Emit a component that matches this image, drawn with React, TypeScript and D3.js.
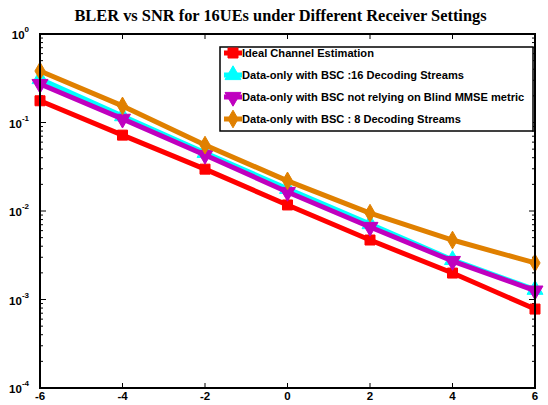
import React from 'react';
import { line, range, scaleLinear, scaleLog, symbol, symbolDiamond, symbolSquare, symbolTriangle } from 'd3';

const snr = [-6, -4, -2, 0, 2, 4, 6];
const xTicks = [-6, -4, -2, 0, 2, 4, 6];
const yExponents = [0, -1, -2, -3, -4];

const idealBler = [0.176, 0.072, 0.0297, 0.0117, 0.0047, 0.00199, 0.00078];
const bsc16Bler = [0.31, 0.118, 0.0454, 0.0178, 0.00712, 0.0028, 0.00129];
const noMmseBler = [0.272, 0.11, 0.043, 0.0164, 0.0066, 0.00272, 0.00126];
const bsc8Bler = [0.382, 0.154, 0.0556, 0.0219, 0.00946, 0.0047, 0.00259];

const seriesNames = [
  'Ideal Channel Estimation',
  'Data-only with BSC :16 Decoding Streams',
  'Data-only with BSC not relying on Blind MMSE metric',
  'Data-only with BSC : 8 Decoding Streams',
];

type Series = { name: string; values: number[]; color: string; shape: string };

const series: Series[] = [
  { name: seriesNames[0], values: idealBler, color: '#ff0000', shape: 'square' },
  { name: seriesNames[1], values: bsc16Bler, color: '#00ffff', shape: 'up' },
  { name: seriesNames[2], values: noMmseBler, color: '#bf00bf', shape: 'down' },
  { name: seriesNames[3], values: bsc8Bler, color: '#e08000', shape: 'diamond' },
];

const W = 548;
const H = 405;
const L = 40;
const R = 535;
const T = 34;
const B = 388;

const font = 'Liberation Sans, Arial, sans-serif';

function Marker({ shape, color, x, y }: { shape: string; color: string; x: number; y: number }) {
  let d = '';
  let rot = 0;
  if (shape === 'square') d = symbol(symbolSquare, 100)() ?? '';
  if (shape === 'up') d = symbol(symbolTriangle, 110)() ?? '';
  if (shape === 'down') {
    d = symbol(symbolTriangle, 110)() ?? '';
    rot = 180;
  }
  if (shape === 'diamond') d = symbol(symbolDiamond, 90)() ?? '';
  return <path d={d} fill={color} stroke={color} strokeWidth={1} transform={`translate(${x},${y}) rotate(${rot})`} />;
}

export default function App() {
  const x = scaleLinear().domain([-6, 6]).range([L, R]);
  const y = scaleLog().domain([1e-4, 1]).range([B, T]);

  const path = line<number>()
    .x((_, i) => x(snr[i]))
    .y(v => y(v));

  const minor: number[] = [];
  range(-4, 0).forEach(e => {
    range(2, 10).forEach(m => minor.push(m * Math.pow(10, e)));
  });

  const legX = 220;
  const legY = 47;
  const legW = 313;
  const legH = 84;

  return (
    <svg width={W} height={H} style={{ position: 'absolute', left: 0, top: 0, background: '#fff' }}>
      <text x={(L + R) / 2 - 7} y={21} textAnchor="middle" fontFamily="Liberation Serif, Times New Roman, serif" fontWeight="bold" fontSize={16.4}>
        BLER vs SNR for 16UEs under Different Receiver Settings
      </text>

      {/* ticks */}
      <g stroke="#000" strokeWidth={1}>
        {xTicks.map(t => (
          <g key={t}>
            <line x1={x(t)} x2={x(t)} y1={B} y2={B - 5} />
            <line x1={x(t)} x2={x(t)} y1={T} y2={T + 5} />
          </g>
        ))}
        {yExponents.map(e => (
          <g key={e}>
            <line x1={L} x2={L + 6} y1={y(Math.pow(10, e))} y2={y(Math.pow(10, e))} />
            <line x1={R} x2={R - 6} y1={y(Math.pow(10, e))} y2={y(Math.pow(10, e))} />
          </g>
        ))}
        {minor.map((v, i) => (
          <g key={i}>
            <line x1={L} x2={L + 3} y1={y(v)} y2={y(v)} />
            <line x1={R} x2={R - 3} y1={y(v)} y2={y(v)} />
          </g>
        ))}
      </g>

      {/* series */}
      {series.map(s => (
        <g key={s.name}>
          <path d={path(s.values) ?? ''} fill="none" stroke={s.color} strokeWidth={5} strokeLinejoin="round" />
          {s.values.map((v, i) => (
            <Marker key={i} shape={s.shape} color={s.color} x={x(snr[i])} y={y(v)} />
          ))}
        </g>
      ))}

      {/* axes box */}
      <rect x={L} y={T} width={R - L} height={B - T} fill="none" stroke="#000" strokeWidth={2} />

      {/* y labels */}
      {yExponents.map(e => (
        <text key={e} x={29} y={y(Math.pow(10, e)) + 5} textAnchor="end" fontFamily={font} fontWeight="bold" fontSize={11.5}>
          10
          <tspan dy={-7} fontSize={8}>{e}</tspan>
        </text>
      ))}

      {/* x labels */}
      {xTicks.map(t => (
        <text key={t} x={x(t)} y={400} textAnchor="middle" fontFamily={font} fontWeight="bold" fontSize={11.5}>
          {t}
        </text>
      ))}

      {/* legend */}
      <rect x={legX} y={legY} width={legW} height={legH} fill="#fff" stroke="#000" strokeWidth={1.5} />
      {series.map((s, i) => {
        const cy = legY + 6 + i * 22;
        return (
          <g key={s.name}>
            <line x1={legX + 4} x2={legX + 22} y1={cy} y2={cy} stroke={s.color} strokeWidth={5} />
            <Marker shape={s.shape} color={s.color} x={legX + 13} y={cy} />
            <text x={legX + 22} y={cy + 4} fontFamily={font} fontWeight="bold" fontSize={11.1}>
              {s.name}
            </text>
          </g>
        );
      })}
    </svg>
  );
}
